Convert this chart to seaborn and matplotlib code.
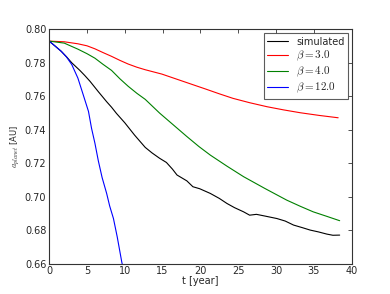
import numpy as np
import pandas as pd
import matplotlib
matplotlib.use("Agg")
import matplotlib.pyplot as plt
import seaborn as sns

# values
t_sim = [0, 0.8, 1.6, 2.3, 3.0, 4.06, 4.7, 5.4, 6.5, 7.6, 8.25, 8.9, 10, 11.3, 12.7,
         13.6, 14.6, 15.5, 16.3, 16.9, 18.2, 19.0, 19.9, 21.3, 22.5, 23.5, 24.5,
         25.7, 26.5, 27.4, 28.5, 30.1, 31.2, 32.3, 33.5, 34.5, 35.6, 36.7, 37.5, 38.4]
a_sim = [0.793, 0.790, 0.7869, 0.7836, 0.780, 0.7755, 0.7725, 0.769, 0.7628,
         0.7568, 0.7535, 0.7498, 0.7442, 0.7368, 0.7295, 0.7262, 0.723, 0.7205,
         0.7165, 0.713, 0.7095, 0.706, 0.7048, 0.702, 0.699, 0.696, 0.6935, 0.691,
         0.689, 0.6895, 0.6885, 0.687, 0.6855, 0.6831, 0.6815, 0.6801, 0.679,
         0.6777, 0.677, 0.6771]

t_b3 = [0, 2, 3.8, 5.0, 6.05, 7.1, 8.25, 9.35, 10.45, 11.6, 12.7, 14.9, 17.1,
        19.3, 20.6, 22.5, 24.3, 26.5, 28.8, 31.0, 33.2, 35.7, 38.2]
a_b3 = [0.793, 0.7926, 0.7914, 0.7902, 0.7884, 0.7862, 0.7839, 0.7815, 0.7793,
        0.7774, 0.7759, 0.7733, 0.7699, 0.7665, 0.7645, 0.7615, 0.7588, 0.7562,
        0.7538, 0.7519, 0.7502, 0.7486, 0.7472]

t_b4 = [0, 2, 3.8, 5.0, 6.05, 7.1, 8.25, 9.35, 10.45, 11.6, 12.7, 14.6, 16.4,
        18.2, 19.8, 21.3, 23.5, 25.7, 28.5, 31.4, 33.2, 34.9, 36.7, 38.4]
a_b4 = [0.793, 0.7918, 0.7882, 0.7855, 0.7828, 0.7792, 0.7755, 0.7705, 0.766,
        0.7618, 0.7582, 0.750, 0.743, 0.736, 0.730, 0.7249, 0.7183, 0.712,
        0.705, 0.698, 0.6943, 0.691, 0.6883, 0.6857]

t_b12 = [0, 0.8, 1.6, 2.3, 3.0, 3.8, 4.5, 5.2, 5.6, 6.05, 6.5, 7.0, 7.6, 8.0,
         8.5, 9.0, 9.6, 10.0]
a_b12 = [0.793, 0.790, 0.7869, 0.7835, 0.7789, 0.7709, 0.761, 0.751, 0.741,
         0.732, 0.7215, 0.7115, 0.702, 0.6945, 0.687, 0.676, 0.661, 0.653]

labels = ["simulated", r"$\beta=3.0$", r"$\beta=4.0$", r"$\beta=12.0$"]
colors = ["black", "red", "#008000", "blue"]

sns.set_style("white")
plt.rcParams["font.family"] = ["DejaVu Sans"]
plt.rcParams["mathtext.fontset"] = "cm"
plt.rcParams["xtick.direction"] = "in"
plt.rcParams["ytick.direction"] = "in"

fig = plt.figure(figsize=(3.9, 2.94), dpi=100)
ax = fig.add_axes([0.126, 0.103, 0.776, 0.797])

series = [(t_sim, a_sim), (t_b3, a_b3), (t_b4, a_b4), (t_b12, a_b12)]
for (t, a), lab, c in zip(series, labels, colors):
    df = pd.DataFrame({"t": t, "a": a})
    sns.lineplot(data=df, x="t", y="a", ax=ax, color=c, label=lab,
                 linewidth=0.8, estimator=None, sort=False)

ax.set_xlim(0, 40)
ax.set_ylim(0.66, 0.80)
ax.set_xticks(np.arange(0, 41, 5))
ax.set_yticks(np.arange(0.66, 0.801, 0.02))
ax.yaxis.set_major_formatter(matplotlib.ticker.FormatStrFormatter("%.2f"))
ax.tick_params(labelsize=7, top=True, right=True, length=3, width=0.6,
               color="#333333", pad=2)
for s in ax.spines.values():
    s.set_color("#333333")
    s.set_linewidth(0.8)

ax.set_xlabel("t [year]", fontsize=7, labelpad=0)
ax.set_ylabel(r"$a_{planet}$ [AU]", fontsize=6, labelpad=2)

leg = ax.legend(loc="upper right", fontsize=7, frameon=True, fancybox=False,
                handlelength=2.2, borderpad=0.35, labelspacing=0.2,
                borderaxespad=0.4)
for txt in leg.get_texts()[1:]:
    txt.set_fontsize(8)
leg.get_frame().set_edgecolor("#333333")
leg.get_frame().set_linewidth(0.8)

fig.savefig("out.png", dpi=100)
